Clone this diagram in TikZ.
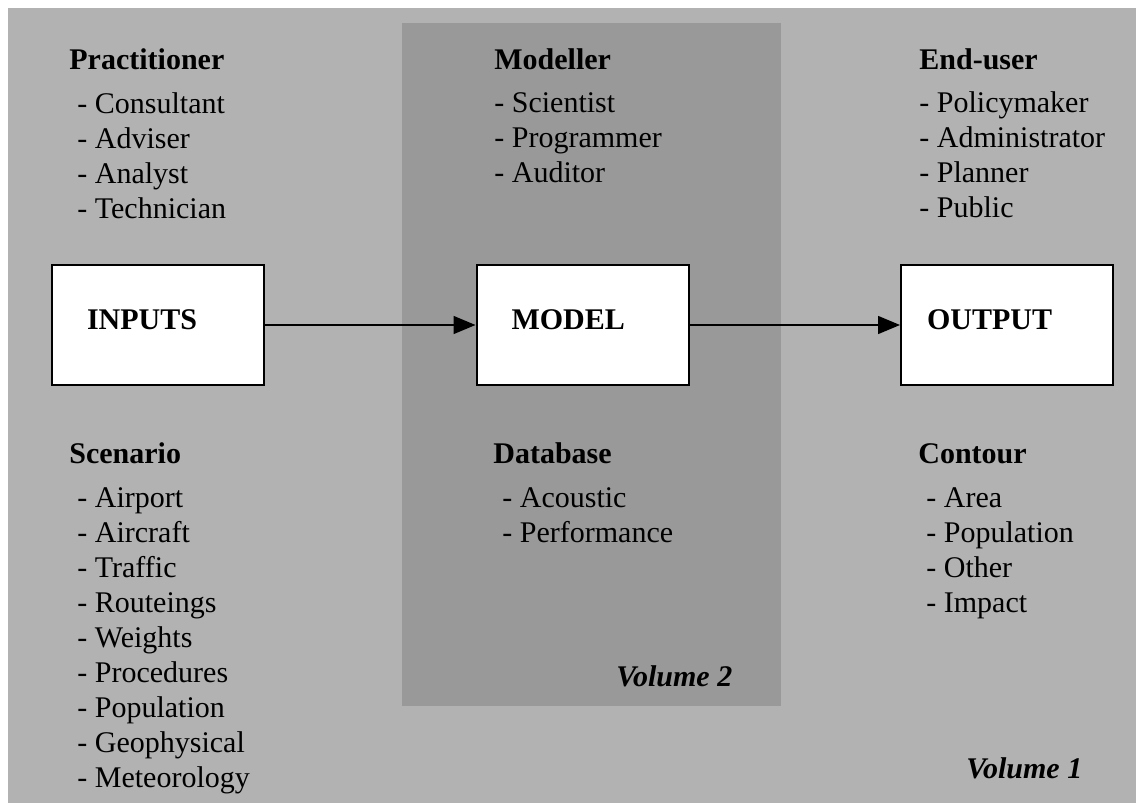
\documentclass[tikz,border=0pt]{standalone}
\usepackage{fontspec}
\setmainfont{Liberation Serif}
\usetikzlibrary{arrows.meta}
\definecolor{voloneback}{gray}{0.70}
\definecolor{voltwoback}{gray}{0.60}
\begin{document}
\begin{tikzpicture}[x=0.5pt,y=-0.5pt,
headnode/.style={anchor=base west, inner sep=0pt, font=\fontsize{15pt}{17.5pt}\selectfont\bfseries},
listnode/.style={anchor=base west, inner sep=0pt, align=left, font=\fontsize{15pt}{17.5pt}\selectfont},% anchored at the last line
boxnode/.style={draw, line width=1pt, fill=white, align=left, text width=71pt, inner xsep=17.5pt, minimum height=60pt, text height=10pt, text depth=6pt, font=\fontsize{15pt}{17.5pt}\selectfont\bfseries},
volnode/.style={anchor=base west, inner sep=0pt, font=\fontsize{15pt}{17.5pt}\selectfont\bfseries\itshape},
flowarrow/.style={-{Triangle[length=11pt,width=9pt]}, line width=0.75pt},
]
    \useasboundingbox (0,0) rectangle (1136,803);
    \fill[voloneback] (8,8) rectangle (1136,803);
    \fill[voltwoback] (402,23) rectangle (781,706);

    \node[headnode](practitioner) at (69,69) {Practitioner};
    \node[listnode](practlist) at (77,218) {- Consultant\\- Adviser\\- Analyst\\- Technician};
    \node[headnode](modeller) at (494,69) {Modeller};
    \node[listnode](modlist) at (494,182) {- Scientist\\- Programmer\\- Auditor};
    \node[headnode](enduser) at (919,69) {End-user};
    \node[listnode](userlist) at (919,217) {- Policymaker\\- Administrator\\- Planner\\- Public};

    \node[boxnode](inputs) at (158,325) {INPUTS};
    \node[boxnode](model) at (582.5,325) {MODEL};
    \node[boxnode, text width=80pt, inner xsep=13pt](output) at (1007,325) {OUTPUT};

    \draw[flowarrow] (inputs) -- (model);
    \draw[flowarrow] (model) -- (output);

    \node[headnode](scenario) at (69,463) {Scenario};
    \node[listnode](scenlist) at (77,787) {- Airport\\- Aircraft\\- Traffic\\- Routeings\\- Weights\\- Procedures\\- Population\\- Geophysical\\- Meteorology};
    \node[headnode](database) at (493,463) {Database};
    \node[listnode](dblist) at (502,542) {- Acoustic\\- Performance};
    \node[headnode](contour) at (918,463) {Contour};
    \node[listnode](contlist) at (926,612) {- Area\\- Population\\- Other\\- Impact};

    \node[volnode](voltwo) at (616,686) {Volume 2};
    \node[volnode](volone) at (966,778) {Volume 1};
\end{tikzpicture}
\end{document}
